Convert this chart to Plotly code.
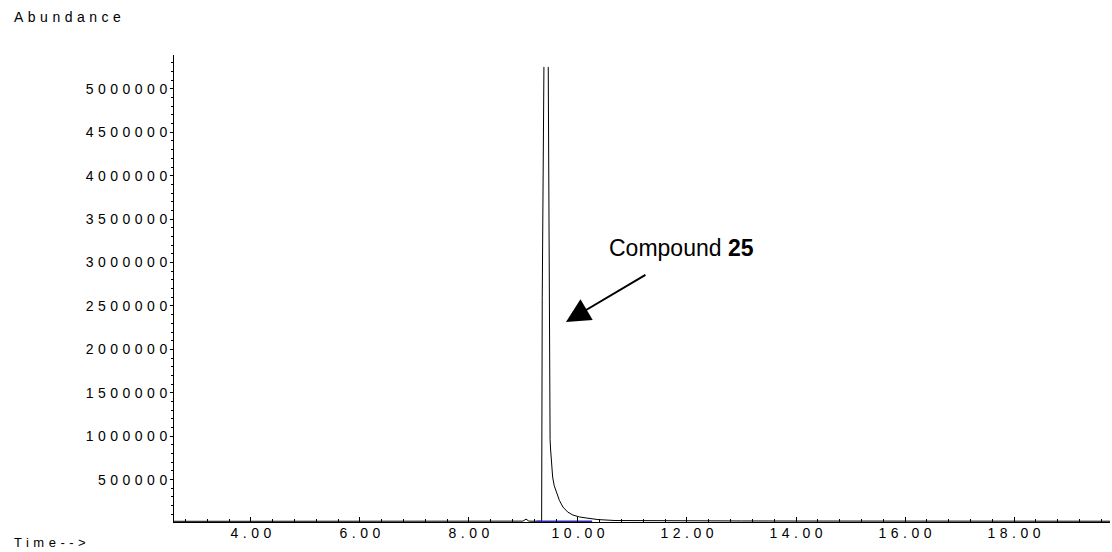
import plotly.graph_objects as go

# ---- data ----
times = [2.59, 4.0, 6.0, 8.0, 8.9, 8.99, 9.046, 9.10, 9.25, 9.334, 9.345, 9.376,
         None,
         9.455, 9.473, 9.474, 9.480, 9.489, 9.499, 9.515, 9.536, 9.565, 9.609,
         9.66, 9.725, 9.81, 9.908, 10.03, 10.165, 10.367,
         10.679, 11.2, 12.0, 13.0, 14.0, 16.0, 18.0, 19.76]
abundance = [20000, 20000, 20000, 21000, 21000, 22000, 45000, 22000, 21000, 21000,
             2600000, 5253000,
             None,
             5253000, 2569000, 1400000, 1106000, 960000, 841000, 680000, 530000,
             430000, 346000, 260000, 184000, 128000, 92000, 70000, 57000, 40000,
             29000, 26000, 25000, 24000, 23000, 22000, 21000, 21000]

baseline_times = [9.24, 10.26]
baseline_abund = [20000, 20000]

x_tick_vals = [4, 6, 8, 10, 12, 14, 16, 18]
x_tick_text = ["4.00", "6.00", "8.00", "10.00", "12.00", "14.00", "16.00", "18.00"]
y_tick_vals = [500000, 1000000, 1500000, 2000000, 2500000, 3000000, 3500000,
               4000000, 4500000, 5000000]
y_tick_text = [str(v) for v in y_tick_vals]

annot_text = "Compound <b>25</b>"
annot_pos = (11.9, 3168000)
arrow_tip = (9.78, 2316000)
arrow_tail = (11.266, 2869000)

LS = 'letter-spacing:4.5px'
def spaced(s):
    # spacing between glyphs only (no trailing space after the last glyph)
    return '<span style="%s">%s</span>%s' % (LS, s[:-1], s[-1])

FONT = "Liberation Sans, Arial, sans-serif"
TSIZE = 14

fig = go.Figure()
fig.add_trace(go.Scatter(x=times, y=abundance, mode="lines",
                         line=dict(color="black", width=1), connectgaps=False,
                         showlegend=False, hoverinfo="skip"))
fig.add_trace(go.Scatter(x=baseline_times, y=baseline_abund, mode="lines",
                         line=dict(color="#2b2bb0", width=1.5),
                         showlegend=False, hoverinfo="skip"))

fig.update_layout(
    width=1112, height=552,
    margin=dict(l=174, r=2, t=55, b=30, autoexpand=False),
    paper_bgcolor="white", plot_bgcolor="white",
    font=dict(family=FONT, size=TSIZE, color="black"),
    xaxis=dict(range=[2.59, 19.76], showgrid=False, zeroline=False,
               automargin=False,
               showline=True, linecolor="black", linewidth=1,
               tickmode="array", tickvals=x_tick_vals,
               ticktext=[spaced(t) for t in x_tick_text],
               ticks="inside", ticklen=5, tickcolor="black", tickwidth=1,
               ticklabelstandoff=-2,
               minor=dict(dtick=0.4, tick0=0, ticks="inside", ticklen=3,
                          tickcolor="black", showgrid=False),
               tickfont=dict(family=FONT, size=TSIZE, color="black")),
    yaxis=dict(range=[12000, 5390000], showgrid=False, zeroline=False,
               automargin=False,
               showline=True, linecolor="black", linewidth=1,
               tickmode="array", tickvals=y_tick_vals,
               ticktext=[spaced(t) for t in y_tick_text],
               ticks="outside", ticklen=3, tickcolor="black", tickwidth=1,
               minor=dict(dtick=100000, tick0=0, ticks="outside", ticklen=2,
                          tickcolor="black", showgrid=False),
               tickfont=dict(family=FONT, size=TSIZE, color="black")),
    annotations=[
        dict(xref="paper", yref="paper", x=-0.1731, y=1.0814, xanchor="left",
             yanchor="middle", text=spaced("Abundance"), showarrow=False,
             font=dict(family=FONT, size=TSIZE, color="black")),
        dict(xref="paper", yref="paper", x=-0.1731, y=-0.0642, xanchor="left",
             yanchor="bottom", text=spaced("Time-->"), showarrow=False,
             font=dict(family=FONT, size=13, color="black")),
        dict(x=annot_pos[0], y=annot_pos[1], xref="x", yref="y",
             text=annot_text, showarrow=False, xanchor="center", yanchor="middle",
             font=dict(family=FONT, size=23, color="black")),
        dict(x=arrow_tip[0], y=arrow_tip[1], xref="x", yref="y",
             ax=arrow_tail[0], ay=arrow_tail[1], axref="x", ayref="y",
             text="", showarrow=True, arrowhead=2, arrowsize=2.4,
             arrowwidth=2, arrowcolor="black", standoff=0),
    ],
)

fig.write_html(
    "out.html",
    config={"displayModeBar": False},
    post_script="document.body.style.margin='0';document.body.style.padding='0';"
                "document.body.style.overflow='hidden';",
)
